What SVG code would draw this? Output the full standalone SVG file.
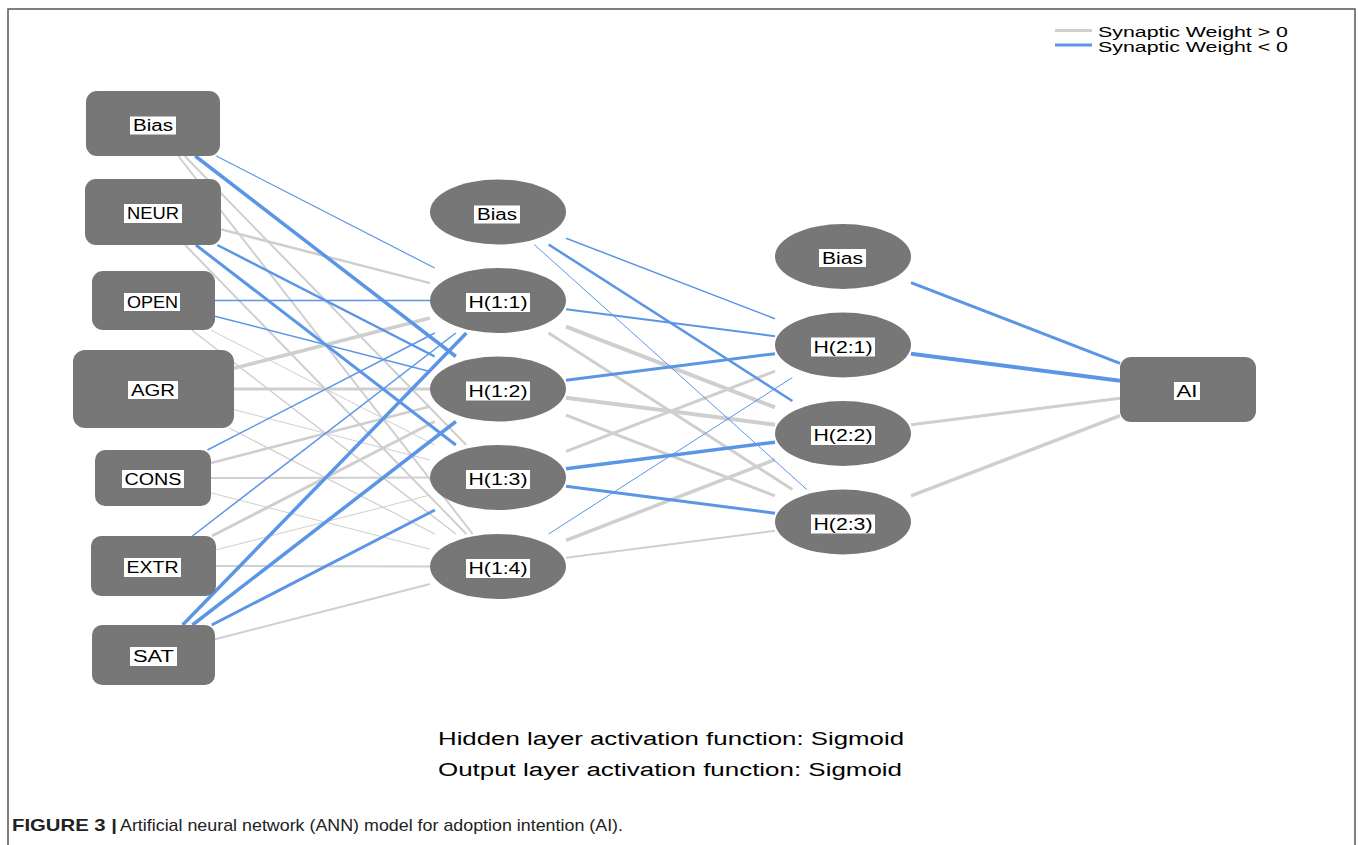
<svg xmlns="http://www.w3.org/2000/svg" width="1358" height="845" viewBox="0 0 1358 845">
<style>
.bg{fill:#ffffff}
.frame{fill:none;stroke:#555555;stroke-width:1.5}
.pos{stroke:#cfcfcf;fill:none;stroke-linecap:butt}
.neg{stroke:#5b96e6;fill:none;stroke-linecap:butt}
.node{fill:#777777}
.lab{fill:#ffffff}
.t{font-family:"Liberation Sans",Arial,sans-serif;font-size:16px;fill:#000000;text-anchor:middle}
.leg{font-family:"Liberation Sans",Arial,sans-serif;font-size:14px;fill:#000000}
.note{font-family:"Liberation Sans",Arial,sans-serif;font-size:18px;fill:#000000}
.cap{font-family:"Liberation Sans",Arial,sans-serif;font-size:17px;fill:#222222}
</style>
<rect class="bg" x="0" y="0" width="1358" height="845"/>
<rect class="frame" x="8" y="9" width="1347" height="850"/>

<g id="legend">
<line class="pos" x1="1055" y1="30.5" x2="1092" y2="30.5" stroke-width="3"/>
<line class="neg" x1="1055" y1="45" x2="1092" y2="45" stroke-width="3"/>
<text class="leg" x="1098" y="37" textLength="190" lengthAdjust="spacingAndGlyphs">Synaptic Weight &gt; 0</text>
<text class="leg" x="1098" y="51.5" textLength="190" lengthAdjust="spacingAndGlyphs">Synaptic Weight &lt; 0</text>
</g>

<g id="connectors">
<!-- input -> hidden 1 -->
<line class="neg" x1="216.3" y1="156" x2="434.7" y2="268" stroke-width="1.2"/>
<line class="pos" x1="184.7" y1="156" x2="466.3" y2="445" stroke-width="2"/>
<line class="pos" x1="178.3" y1="156" x2="472.7" y2="534" stroke-width="2"/>
<line class="pos" x1="221" y1="229.4" x2="430" y2="283.1" stroke-width="2.5"/>
<line class="pos" x1="185.1" y1="245" x2="466.4" y2="534" stroke-width="2"/>
<line class="pos" x1="210.9" y1="330" x2="434.7" y2="445" stroke-width="1"/>
<line class="pos" x1="191.7" y1="330" x2="455.9" y2="534" stroke-width="1.5"/>
<line class="pos" x1="234" y1="368.3" x2="430" y2="318" stroke-width="3.5"/>
<line class="pos" x1="234" y1="389" x2="430" y2="389" stroke-width="3"/>
<line class="pos" x1="234" y1="409.7" x2="430" y2="460" stroke-width="1"/>
<line class="pos" x1="229.2" y1="428" x2="434.9" y2="534" stroke-width="1.2"/>
<line class="pos" x1="211" y1="463" x2="430" y2="406.5" stroke-width="2.5"/>
<line class="pos" x1="211" y1="478" x2="430" y2="477.6" stroke-width="2"/>
<line class="pos" x1="211" y1="492.9" x2="430" y2="549.1" stroke-width="1"/>
<line class="pos" x1="211.9" y1="536" x2="434.7" y2="421.5" stroke-width="3"/>
<line class="pos" x1="216" y1="549.9" x2="430" y2="495" stroke-width="1"/>
<line class="pos" x1="216" y1="566" x2="430" y2="566.5" stroke-width="2"/>
<line class="pos" x1="215" y1="639.2" x2="430" y2="584" stroke-width="2"/>
<line class="neg" x1="195.2" y1="156" x2="455.8" y2="356.5" stroke-width="3.5"/>
<line class="neg" x1="217.3" y1="245" x2="434.7" y2="356.5" stroke-width="2.5"/>
<line class="neg" x1="195.9" y1="245" x2="455.8" y2="445" stroke-width="3"/>
<line class="neg" x1="215" y1="300.5" x2="430" y2="300.5" stroke-width="1.5"/>
<line class="neg" x1="215" y1="316.3" x2="430" y2="371.5" stroke-width="1.5"/>
<line class="neg" x1="207.4" y1="450" x2="434.8" y2="333" stroke-width="1.5"/>
<line class="neg" x1="192.4" y1="536" x2="455.8" y2="333" stroke-width="1.5"/>
<line class="neg" x1="182.6" y1="625" x2="466.4" y2="333" stroke-width="3.5"/>
<line class="neg" x1="192.4" y1="625" x2="455.9" y2="421.5" stroke-width="3.5"/>
<line class="neg" x1="211.7" y1="625" x2="434.9" y2="510" stroke-width="3"/>
<!-- hidden 1 -> hidden 2 -->
<line class="pos" x1="566" y1="326.7" x2="775" y2="407.3" stroke-width="4"/>
<line class="pos" x1="548.6" y1="333" x2="792.4" y2="489.5" stroke-width="3"/>
<line class="pos" x1="566" y1="397.8" x2="775" y2="424.7" stroke-width="4"/>
<line class="pos" x1="566" y1="415.2" x2="775" y2="495.8" stroke-width="3"/>
<line class="pos" x1="566" y1="451.4" x2="775" y2="371.1" stroke-width="3"/>
<line class="pos" x1="566" y1="540.3" x2="775" y2="459.7" stroke-width="3.5"/>
<line class="pos" x1="566" y1="557.7" x2="775" y2="530.8" stroke-width="2"/>
<line class="neg" x1="566" y1="238.2" x2="775" y2="318.8" stroke-width="1.5"/>
<line class="neg" x1="548.6" y1="244.5" x2="792.4" y2="401" stroke-width="2.5"/>
<line class="neg" x1="534.2" y1="244.5" x2="806.8" y2="489.5" stroke-width="1"/>
<line class="neg" x1="566" y1="309.3" x2="775" y2="336.2" stroke-width="2"/>
<line class="neg" x1="566" y1="380.3" x2="775" y2="353.7" stroke-width="3"/>
<line class="neg" x1="566" y1="468.8" x2="775" y2="442.2" stroke-width="3.5"/>
<line class="neg" x1="566" y1="486.3" x2="775" y2="513.2" stroke-width="3"/>
<line class="neg" x1="548.6" y1="534" x2="792.4" y2="377.5" stroke-width="1"/>
<!-- hidden 2 -> output -->
<line class="neg" x1="911" y1="282.7" x2="1120" y2="363.3" stroke-width="3"/>
<line class="neg" x1="911" y1="353.8" x2="1120" y2="380.7" stroke-width="4"/>
<line class="pos" x1="911" y1="424.8" x2="1120" y2="398.2" stroke-width="3"/>
<line class="pos" x1="911" y1="495.9" x2="1120" y2="415.6" stroke-width="3.5"/>
</g>

<g id="in_bias">
<rect class="node" x="86" y="91" width="134" height="65" rx="11"/>
<rect class="lab" x="130" y="116.5" width="46" height="18"/>
<text class="t" x="153" y="131" textLength="40" lengthAdjust="spacingAndGlyphs">Bias</text>
</g>
<g id="in_neur">
<rect class="node" x="85" y="179" width="136" height="66" rx="11"/>
<rect class="lab" x="124" y="204" width="58" height="19"/>
<text class="t" x="153" y="219" textLength="52" lengthAdjust="spacingAndGlyphs">NEUR</text>
</g>
<g id="in_open">
<rect class="node" x="92" y="271" width="123" height="59" rx="11"/>
<rect class="lab" x="124" y="293" width="56" height="18"/>
<text class="t" x="152.5" y="308" textLength="51" lengthAdjust="spacingAndGlyphs">OPEN</text>
</g>
<g id="in_agr">
<rect class="node" x="73" y="350" width="161" height="78" rx="12"/>
<rect class="lab" x="128" y="381" width="50" height="18"/>
<text class="t" x="153" y="396" textLength="44" lengthAdjust="spacingAndGlyphs">AGR</text>
</g>
<g id="in_cons">
<rect class="node" x="95" y="450" width="116" height="56" rx="10"/>
<rect class="lab" x="122" y="470" width="62" height="18"/>
<text class="t" x="153" y="485" textLength="57" lengthAdjust="spacingAndGlyphs">CONS</text>
</g>
<g id="in_extr">
<rect class="node" x="91" y="536" width="125" height="60" rx="10"/>
<rect class="lab" x="124" y="558" width="57" height="19"/>
<text class="t" x="152.5" y="573" textLength="52" lengthAdjust="spacingAndGlyphs">EXTR</text>
</g>
<g id="in_sat">
<rect class="node" x="92" y="625" width="123" height="60" rx="10"/>
<rect class="lab" x="130" y="647" width="47" height="19"/>
<text class="t" x="153.5" y="662" textLength="41" lengthAdjust="spacingAndGlyphs">SAT</text>
</g>

<g id="h1_bias">
<ellipse class="node" cx="498" cy="212" rx="68" ry="32.5"/>
<rect class="lab" x="474" y="205.5" width="46" height="18"/>
<text class="t" x="497" y="220" textLength="40" lengthAdjust="spacingAndGlyphs">Bias</text>
</g>
<g id="h1_1">
<ellipse class="node" cx="498" cy="300.5" rx="68" ry="32.5"/>
<rect class="lab" x="466" y="293" width="64" height="19"/>
<text class="t" x="498" y="308" textLength="59" lengthAdjust="spacingAndGlyphs">H(1:1)</text>
</g>
<g id="h1_2">
<ellipse class="node" cx="498" cy="389" rx="68" ry="32.5"/>
<rect class="lab" x="466" y="381.5" width="64" height="19"/>
<text class="t" x="498" y="396.5" textLength="59" lengthAdjust="spacingAndGlyphs">H(1:2)</text>
</g>
<g id="h1_3">
<ellipse class="node" cx="498" cy="477.5" rx="68" ry="32.5"/>
<rect class="lab" x="466" y="470" width="64" height="19"/>
<text class="t" x="498" y="485" textLength="59" lengthAdjust="spacingAndGlyphs">H(1:3)</text>
</g>
<g id="h1_4">
<ellipse class="node" cx="498" cy="566.5" rx="68" ry="32.5"/>
<rect class="lab" x="466" y="559" width="64" height="19"/>
<text class="t" x="498" y="574" textLength="59" lengthAdjust="spacingAndGlyphs">H(1:4)</text>
</g>

<g id="h2_bias">
<ellipse class="node" cx="843" cy="256.5" rx="68" ry="32.5"/>
<rect class="lab" x="819" y="249" width="47" height="18"/>
<text class="t" x="842.5" y="264" textLength="41" lengthAdjust="spacingAndGlyphs">Bias</text>
</g>
<g id="h2_1">
<ellipse class="node" cx="843" cy="345" rx="68" ry="32.5"/>
<rect class="lab" x="811" y="337.5" width="64" height="19"/>
<text class="t" x="843" y="352.5" textLength="59" lengthAdjust="spacingAndGlyphs">H(2:1)</text>
</g>
<g id="h2_2">
<ellipse class="node" cx="843" cy="433.5" rx="68" ry="32.5"/>
<rect class="lab" x="811" y="426" width="64" height="19"/>
<text class="t" x="843" y="441" textLength="59" lengthAdjust="spacingAndGlyphs">H(2:2)</text>
</g>
<g id="h2_3">
<ellipse class="node" cx="843" cy="522" rx="68" ry="32.5"/>
<rect class="lab" x="811" y="514.5" width="64" height="19"/>
<text class="t" x="843" y="529.5" textLength="59" lengthAdjust="spacingAndGlyphs">H(2:3)</text>
</g>

<g id="out_ai">
<rect class="node" x="1120" y="357" width="136" height="65" rx="11"/>
<rect class="lab" x="1174" y="382" width="26" height="18"/>
<text class="t" x="1187" y="397" textLength="21" lengthAdjust="spacingAndGlyphs">AI</text>
</g>

<g id="notes">
<text class="note" x="438" y="745" textLength="466" lengthAdjust="spacingAndGlyphs">Hidden layer activation function: Sigmoid</text>
<text class="note" x="438" y="776" textLength="464" lengthAdjust="spacingAndGlyphs">Output layer activation function: Sigmoid</text>
</g>
<g id="caption">
<text class="cap" x="12" y="831"><tspan font-weight="bold" textLength="105" lengthAdjust="spacingAndGlyphs">FIGURE 3 |</tspan><tspan x="120" textLength="503" lengthAdjust="spacingAndGlyphs">Artificial neural network (ANN) model for adoption intention (AI).</tspan></text>
</g>
</svg>
